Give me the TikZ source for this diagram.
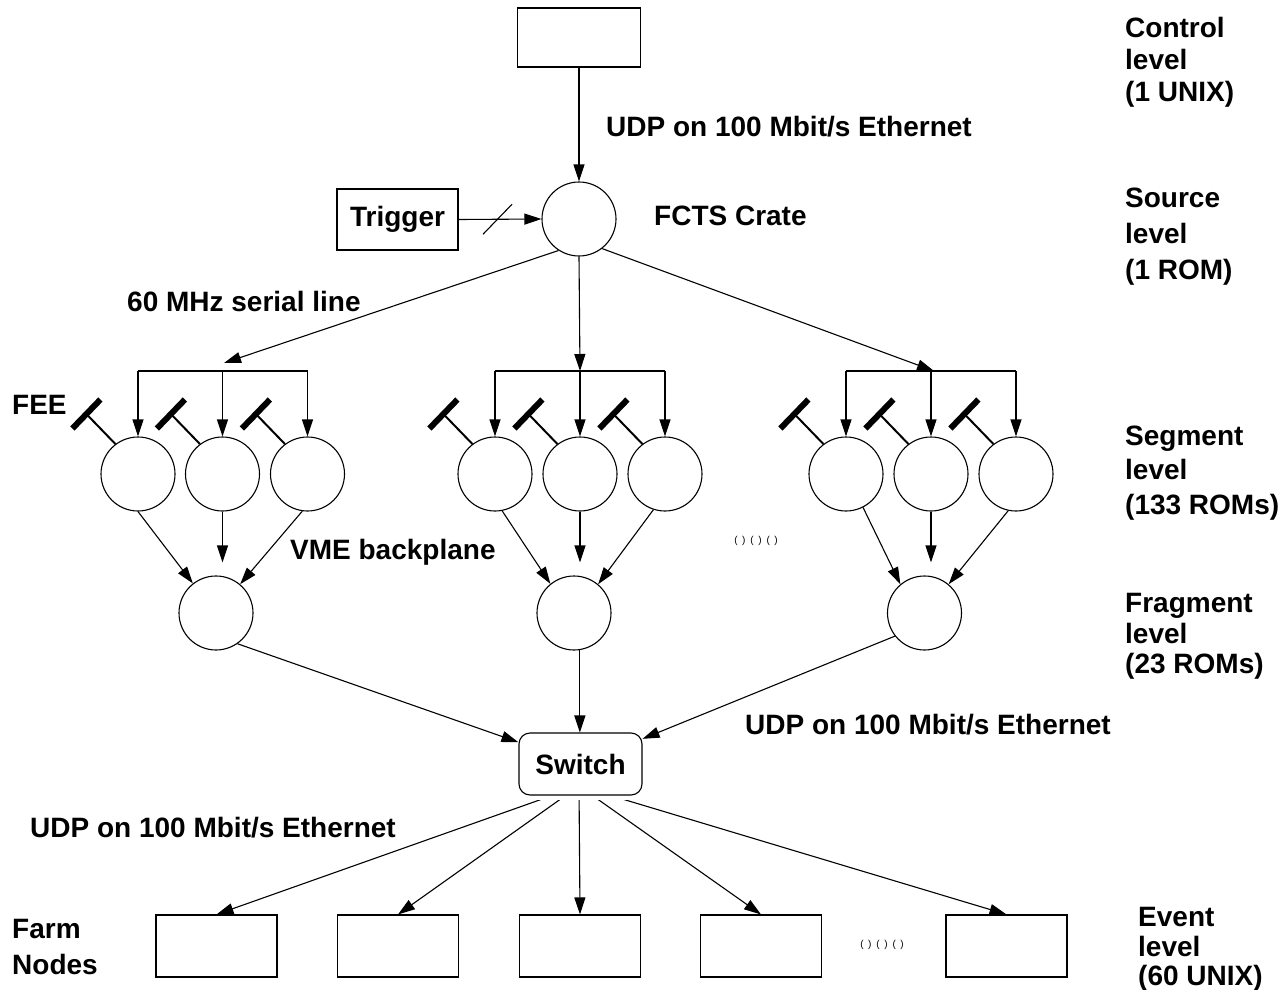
\documentclass[tikz,border=0pt]{standalone}
\usepackage{fontspec}
\setmainfont{Liberation Sans}
\usetikzlibrary{arrows.meta,calc}
\newcommand{\dgmfont}[1]{\fontsize{28}{#1}\selectfont\bfseries}
\begin{document}
\begin{tikzpicture}[x=1pt,y=-1pt,
  thin/.style={line width=1.1pt},
  arr/.style={thin,-{Triangle[length=17pt,width=11pt]}},
  circ/.style={circle,draw,thin,minimum size=74pt,inner sep=0pt},
  box/.style={rectangle,draw,thin,minimum width=121pt,minimum height=62pt,inner sep=0pt,font=\dgmfont{30}},
  lbl/.style={anchor=base west,inner sep=0pt,font=\dgmfont{30}},
  lvl/.style={anchor=north west,align=left,inner sep=0pt},
  stem/.style={line width=2pt},
  fee/.style={line width=6pt},
  dots/.style={inner sep=0pt,font=\fontsize{10}{10}\selectfont}
]
\useasboundingbox (0,0) rectangle (1288,990);

% control and source
\node[box,minimum width=123pt,minimum height=59pt] (ctrl) at (579,37.5) {};
\node[circ] (fcts) at (579,219) {};
\node[box,minimum width=121pt,minimum height=61pt] (trig) at (397.5,219.5) {Trigger};

% segment circles
\foreach \n/\x in {s11/138,s12/222.5,s13/307.5,s21/495,s22/580,s23/665,s31/846,s32/931,s33/1016}
  \node[circ] (\n) at (\x,474) {};
% fragment circles
\node[circ] (f1) at (216,613) {};
\node[circ] (f2) at (574,613) {};
\node[circ] (f3) at (924.5,613) {};

% switch
\node[box,rounded corners=11pt,minimum width=123pt,minimum height=62pt] (sw) at (580.5,764) {Switch};

% farm nodes
\foreach \n/\x in {e1/216.5,e2/398,e3/580,e4/761,e5/1006.5}
  \node[box] (\n) at (\x,946) {};

% coordinates
\coordinate (a1) at (224,363);
\coordinate (b1) at (223,371);
\coordinate (b2) at (580,371);
\coordinate (b3) at (934,371);
\coordinate (swc) at (579,786);

% labels
\node[lbl] (udp1) at (606,136) {UDP on 100 Mbit/s Ethernet};
\node[lbl] (fctslbl) at (654,225) {FCTS Crate};
\node[lbl] (serial) at (127,311) {60 MHz serial line};
\node[lbl] (feelbl) at (12,414) {FEE};
\node[lbl] (vme) at (290,559) {VME backplane};
\node[lbl] (udp2) at (745,734) {UDP on 100 Mbit/s Ethernet};
\node[lbl] (udp3) at (30,837) {UDP on 100 Mbit/s Ethernet};
\node[lvl,font=\dgmfont{36}] (farm) at (12,919.5) {Farm\\Nodes};

\node[lvl,font=\dgmfont{32}] (lvctl) at (1125,17.5) {Control\\level\\(1 UNIX)};
\node[lvl,font=\dgmfont{36}] (lvsrc) at (1125,187.5) {Source\\level\\(1 ROM)};
\node[lvl,font=\dgmfont{34.5}] (lvseg) at (1125,425.5) {Segment\\level\\(133 ROMs)};
\node[lvl,font=\dgmfont{30.5}] (lvfrg) at (1125,593.5) {Fragment\\level\\(23 ROMs)};
\node[lvl,font=\dgmfont{29.5}] (lvevt) at (1138,907.5) {Event\\level\\(60 UNIX)};

\node[dots] (dots1) at (756,541) {(\hspace{4.5pt})\hspace{5pt}(\hspace{4.5pt})\hspace{5pt}(\hspace{4.5pt})};
\node[dots] (dots2) at (882,945) {(\hspace{4.5pt})\hspace{5pt}(\hspace{4.5pt})\hspace{5pt}(\hspace{4.5pt})};

% top connectors
\draw[arr] (ctrl.south) -- (fcts.north);
\draw[arr] (trig.east) -- (fcts.west);
\draw[thin] ($(trig.east)!0.47!(fcts.west)+(-14.5,15)$) -- ++(29,-30);

% source to segment groups
\draw[arr] (fcts.237) -- (a1);
\draw[arr] (fcts.south) -- (b2);
\draw[arr] (fcts.-52) -- (b3);

\draw[thin] (s11 |- b1) -- (s13 |- b1);
\draw[thin] (s21 |- b2) -- (s23 |- b2);
\draw[thin] (s31 |- b3) -- (s33 |- b3);
\foreach \s in {s11,s12,s13,s21,s22,s23,s31,s32,s33}{
  \draw[arr] (\s |- b1) -- (\s.north);
  \draw[stem] (\s.127) -- ++(-29,-30) coordinate (fe\s);
  \draw[fee] ($(fe\s)+(-14,14.5)$) -- ++(28,-29);
}

% segment to fragment
\draw[arr] (s11.270) -- (f1.128);
\draw[arr,shorten >=13pt] (s12.south) -- (s12.south |- f1.north);
\draw[arr] (s13.262) -- (f1.50);
\draw[arr] (s21.281) -- (f2.129);
\draw[arr,shorten >=13pt] (s22.south) -- (s22.south |- f2.north);
\draw[arr] (s23.252) -- (f2.50);
\draw[arr] (s31.297) -- (f3.130);
\draw[arr,shorten >=13pt] (s32.south) -- (s32.south |- f3.north);
\draw[arr] (s33.258) -- (f3.50);

% fragment to switch
\draw[arr] (f1.-55) -- (sw);
\draw[arr] (f2.-81) -- (f2.-81 |- sw.north);
\draw[arr] (f3.218) -- (sw);

% switch to farm nodes
\begin{scope}
  \clip (0,800) rectangle (1288,990);
  \foreach \e in {e1,e2,e3,e4,e5}
    \draw[arr] (swc) -- (\e.north);
\end{scope}
\end{tikzpicture}
\end{document}
